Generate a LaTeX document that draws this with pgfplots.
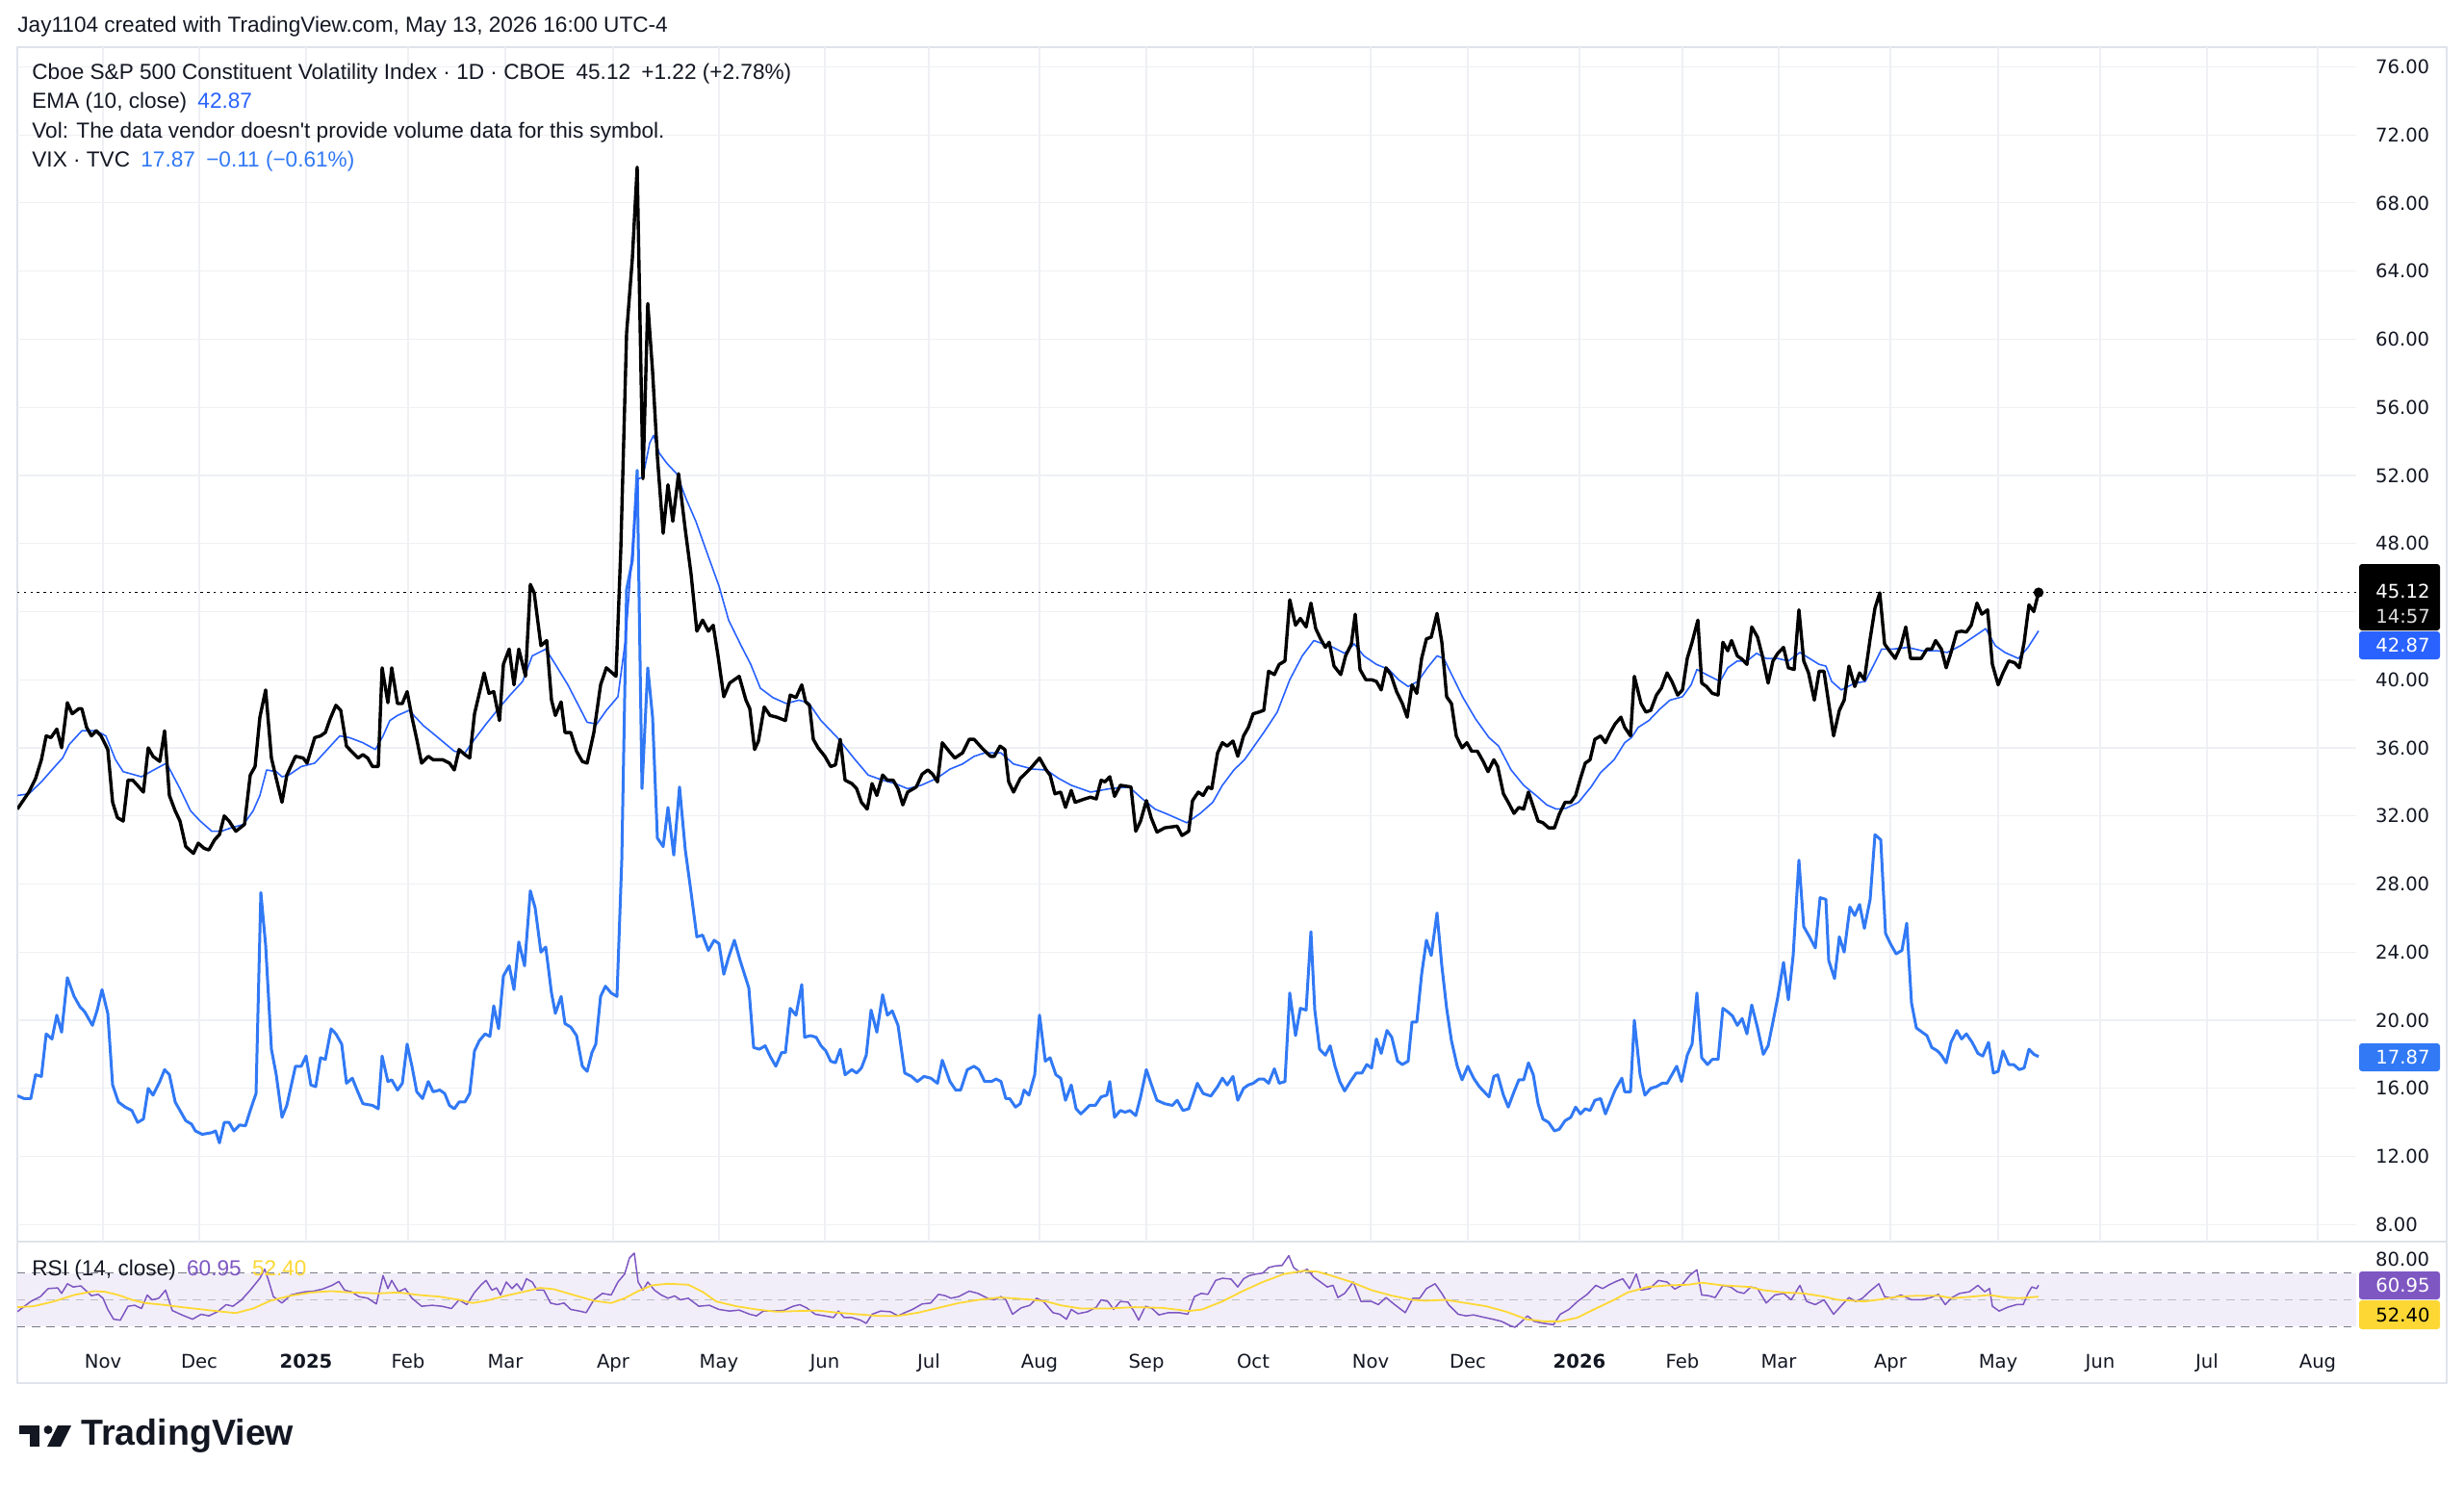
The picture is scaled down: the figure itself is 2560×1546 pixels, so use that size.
\documentclass[border=0pt]{standalone}
\usepackage{fontspec}
\setmainfont{Liberation Sans}
\newfontfamily\nolig{Liberation Sans}
\newfontfamily\axisfont{DejaVu Sans}
\usepackage{pgfplots}
\pgfplotsset{compat=1.18}
\usepgfplotslibrary{fillbetween}
\definecolor{gridc}{RGB}{238,240,244}
\definecolor{framec}{RGB}{224,227,235}
\definecolor{labc}{RGB}{19,23,34}
\definecolor{txt}{RGB}{19,23,34}
\definecolor{emac}{RGB}{41,98,255}
\definecolor{vixc}{RGB}{49,121,245}
\definecolor{rsic}{RGB}{126,87,194}
\definecolor{rsima}{RGB}{253,216,53}
\definecolor{bandc}{RGB}{242,238,249}
\definecolor{dashc}{RGB}{120,123,134}
\definecolor{dashl}{RGB}{187,189,194}
\newcommand\axf{\axisfont\fontsize{9.8}{11}\selectfont}
\begin{document}
\begin{tikzpicture}[x=0.5pt,y=-0.5pt]
\fill[white] (0,0) rectangle (2560,1546);
\draw[framec, line width=0.6pt] (18,49) rectangle (2542,1437);
\draw[framec, line width=0.6pt] (18,1290) -- (2542,1290);

% ---------------- main pane ----------------
\begin{axis}[
  at={(9pt,-645pt)}, anchor=south west, scale only axis,
  width=1215pt, height=620.5pt,
  xmin=18, xmax=2448, ymin=7.0, ymax=77.15,
  axis line style={draw=none}, tick style={draw=none},
  xtick={107,207,318,424,525,637,747,857,965,1080,1191,1302,1424,1525,1641,1748,1848,1964,2076,2182,2293,2408},
  xticklabels={},
  ytick={8,12,16,20,24,28,32,36,40,48,52,56,60,64,68,72,76},
  extra y ticks={44}, extra y tick labels={},
  yticklabel pos=right,
  grid=major, major grid style={gridc, line width=0.6pt},
  yticklabel style={font=\axf, text=labc, anchor=west, xshift=6.5pt,
    /pgf/number format/fixed, /pgf/number format/fixed zerofill, /pgf/number format/precision=2},
  /pgf/number format/assume math mode=true,
]
\addplot[black, dash pattern=on 1.2pt off 2.2pt, line width=0.6pt] coordinates {(18,45.12)(2448,45.12)};
% VIX
\addplot[vixc, line width=1.5pt, line join=round] coordinates {
(18,15.57)(25,15.4)(32,15.4)(37,16.8)(43,16.7)(48,19.2)(54,18.9)(59,20.3)(64,19.3)(70,22.5)(77,21.4)(83,20.8)(88,20.5)(96,19.7)(101,20.6)(106,21.8)(112,20.4)(117,16.2)(123,15.2)(130,14.9)(137,14.7)(143,14.0)(149,14.2)(154,16.0)(159,15.6)(166,16.4)(171,17.1)(176,16.8)(182,15.2)(193,14.1)(199,13.9)(203,13.5)(210,13.3)(220,13.4)(224,13.5)(228,12.8)(233,14.0)(238,14.0)(243,13.5)(249,13.85)(255,13.8)(260,14.7)(266,15.7)(271,27.5)(276,24.4)(282,18.3)(287,16.8)(293,14.3)(298,15.0)(307,17.3)(313,17.3)(318,17.9)(323,16.2)(328,16.1)(333,17.8)(338,17.7)(344,19.5)(349,19.2)(355,18.6)(360,16.3)(366,16.6)(371,15.9)(377,15.1)(387,15.0)(393,14.8)(397,17.9)(403,16.4)(407,16.5)(413,15.9)(418,16.3)(423,18.6)(428,17.3)(433,15.8)(439,15.4)(445,16.4)(450,15.8)(457,15.9)(462,15.7)(467,15.0)(472,14.8)(477,15.2)(483,15.2)(488,15.7)(493,18.2)(498,18.8)(504,19.2)(509,19.05)(513,20.85)(518,19.5)(523,22.6)(529,23.2)(534,21.8)(539,24.6)(545,23.2)(551,27.6)(556,26.6)(562,24.0)(567,24.3)(573,21.6)(577,20.4)(583,21.4)(587,19.8)(593,19.6)(599,19.1)(605,17.3)(610,17.0)(615,18.1)(619,18.6)(624,21.4)(629,22.0)(635,21.6)(641,21.4)(646,29.4)(651,45.3)(657,47.0)(662,52.3)(667,33.6)(673,40.7)(678,37.8)(683,30.7)(689,30.2)(694,32.5)(700,29.7)(706,33.7)(712,30.0)(718,27.5)(724,24.9)(730,25.0)(736,24.1)(742,24.7)(747,24.5)(752,22.7)(757,23.7)(763,24.7)(769,23.5)(778,21.9)(783,18.4)(789,18.3)(795,18.5)(800,17.9)(806,17.3)(812,18.1)(816,18.1)(821,20.7)(827,20.3)(833,22.1)(836,19.0)(842,19.1)(848,19.0)(853,18.5)(858,18.2)(863,17.6)(868,17.5)(873,18.3)(878,16.8)(885,17.1)(890,16.9)(895,17.2)(900,17.95)(905,20.6)(911,19.3)(917,21.5)(922,20.3)(927,20.55)(933,19.7)(940,16.9)(947,16.7)(953,16.4)(960,16.7)(967,16.6)(974,16.3)(979,17.65)(987,16.4)(993,15.9)(998,15.9)(1005,17.1)(1012,17.3)(1017,17.1)(1023,16.4)(1030,16.4)(1035,16.55)(1040,16.4)(1045,15.4)(1049,15.4)(1055,14.9)(1060,15.1)(1064,15.9)(1069,15.6)(1075,16.8)(1080,20.3)(1086,17.6)(1091,17.8)(1097,16.8)(1102,16.6)(1107,15.3)(1113,16.2)(1118,14.8)(1123,14.5)(1132,15.0)(1138,15.0)(1144,15.5)(1150,15.6)(1153,16.4)(1158,14.3)(1164,14.7)(1169,14.6)(1174,14.7)(1180,14.4)(1185,15.5)(1191,17.1)(1197,16.1)(1202,15.3)(1210,15.1)(1218,15.0)(1223,15.3)(1229,14.7)(1235,14.8)(1244,16.3)(1250,15.7)(1258,15.55)(1265,16.1)(1270,16.6)(1275,16.2)(1281,16.7)(1286,15.3)(1292,16.0)(1297,16.2)(1302,16.3)(1308,16.55)(1313,16.55)(1318,16.3)(1324,17.15)(1329,16.3)(1335,16.4)(1340,21.6)(1346,19.1)(1351,20.7)(1357,20.6)(1362,25.2)(1366,20.6)(1371,18.3)(1377,17.95)(1382,18.5)(1387,17.3)(1392,16.4)(1397,15.85)(1403,16.4)(1409,16.9)(1415,16.9)(1420,17.4)(1425,17.2)(1430,18.9)(1435,18.05)(1441,19.4)(1446,19.0)(1452,17.6)(1457,17.4)(1463,17.6)(1467,19.9)(1472,19.9)(1477,22.7)(1482,24.7)(1487,23.8)(1493,26.3)(1498,23.2)(1503,20.7)(1508,18.8)(1514,17.3)(1519,16.5)(1525,17.3)(1531,16.6)(1537,16.1)(1542,15.8)(1547,15.5)(1552,16.7)(1556,16.8)(1562,15.6)(1567,14.9)(1573,15.8)(1578,16.5)(1583,16.5)(1588,17.5)(1593,16.8)(1598,15.1)(1603,14.2)(1609,14.0)(1615,13.5)(1620,13.6)(1626,14.1)(1632,14.3)(1637,14.9)(1642,14.5)(1647,14.8)(1652,14.7)(1657,15.3)(1663,15.4)(1668,14.5)(1673,15.2)(1678,15.9)(1685,16.6)(1688,15.8)(1694,15.8)(1698,20.0)(1704,16.8)(1709,15.6)(1715,16.0)(1721,16.1)(1727,16.3)(1732,16.3)(1737,16.8)(1742,17.3)(1747,16.4)(1753,17.95)(1758,18.6)(1763,21.6)(1768,17.8)(1774,17.4)(1779,17.7)(1785,17.7)(1790,20.7)(1795,20.5)(1800,20.25)(1805,19.7)(1810,20.1)(1815,19.2)(1820,20.9)(1826,19.55)(1832,18.0)(1837,18.5)(1842,19.9)(1847,21.35)(1853,23.4)(1858,21.2)(1863,23.8)(1869,29.4)(1874,25.5)(1880,24.9)(1886,24.25)(1891,27.2)(1897,27.1)(1900,23.5)(1906,22.45)(1911,24.9)(1916,24.0)(1922,26.65)(1927,26.15)(1932,26.8)(1937,25.4)(1943,27.1)(1948,30.9)(1954,30.6)(1959,25.1)(1964,24.5)(1970,23.9)(1976,24.1)(1981,25.7)(1986,21.0)(1991,19.55)(1997,19.3)(2002,19.1)(2007,18.4)(2013,18.2)(2017,17.95)(2022,17.5)(2027,18.7)(2033,19.4)(2038,18.9)(2043,19.2)(2049,18.7)(2055,18.05)(2060,17.9)(2066,18.7)(2071,16.9)(2076,17.0)(2081,18.2)(2087,17.4)(2092,17.4)(2098,17.1)(2103,17.2)(2108,18.3)(2113,18.0)(2118,17.87)};
% EMA 10
\addplot[emac, line width=0.8pt, line join=round] coordinates {
(18,33.2)(30,33.3)(43,34.0)(57,34.9)(65,35.4)(72,36.2)(85,37.0)(100,37.0)(110,36.7)(120,35.3)(128,34.6)(147,34.3)(163,34.8)(173,35.1)(187,33.6)(198,32.3)(208,31.7)(220,31.1)(230,31.1)(240,31.3)(253,31.5)(263,32.3)(270,33.2)(277,34.7)(287,34.6)(293,34.3)(300,34.4)(313,34.9)(327,35.1)(340,35.9)(353,36.7)(363,36.6)(377,36.3)(390,35.9)(398,36.7)(405,37.6)(413,37.9)(425,38.2)(430,37.9)(440,37.3)(453,36.7)(472,35.8)(483,35.7)(493,36.5)(505,37.4)(518,38.3)(530,39.1)(543,39.9)(553,41.4)(567,41.8)(577,40.9)(590,39.7)(600,38.6)(610,37.5)(620,37.4)(630,38.2)(642,39.0)(650,42.4)(657,47.7)(663,51.8)(668,51.9)(675,53.9)(679,54.35)(685,53.3)(693,52.7)(703,52.1)(713,50.6)(723,49.3)(733,47.7)(747,45.5)(757,43.5)(770,42.0)(780,40.9)(790,39.5)(803,38.95)(817,38.6)(830,38.8)(840,38.65)(853,37.6)(870,36.6)(887,35.4)(902,34.4)(917,34.1)(930,33.9)(943,33.6)(957,33.8)(973,34.2)(987,34.75)(1000,35.05)(1012,35.5)(1023,35.7)(1040,35.7)(1053,35.05)(1073,34.75)(1087,34.7)(1100,34.2)(1113,33.8)(1133,33.4)(1153,33.6)(1173,33.7)(1187,33.0)(1200,32.4)(1213,32.1)(1233,31.6)(1247,32.15)(1260,32.8)(1270,33.8)(1282,34.7)(1293,35.3)(1303,36.1)(1313,36.9)(1327,38.1)(1340,40.0)(1353,41.4)(1365,42.3)(1375,42.1)(1385,41.9)(1397,41.55)(1407,42.1)(1417,41.4)(1430,40.9)(1443,40.6)(1453,40.0)(1463,39.6)(1473,39.9)(1483,40.7)(1493,41.4)(1500,41.25)(1510,40.1)(1520,38.95)(1533,37.7)(1547,36.6)(1557,36.1)(1570,34.7)(1583,33.8)(1597,33.15)(1607,32.65)(1617,32.4)(1627,32.45)(1640,32.8)(1653,33.7)(1663,34.55)(1677,35.3)(1688,36.3)(1695,36.6)(1702,37.2)(1713,37.6)(1725,38.3)(1735,38.8)(1748,39.0)(1757,39.7)(1763,40.6)(1773,40.3)(1787,39.9)(1795,40.7)(1805,41.1)(1815,41.1)(1825,41.55)(1835,41.25)(1847,41.25)(1858,41.1)(1870,41.6)(1880,41.25)(1890,40.9)(1897,40.8)(1903,39.9)(1913,39.4)(1927,39.8)(1938,39.9)(1947,40.9)(1955,41.8)(1967,41.8)(1982,41.9)(1997,41.7)(2013,41.7)(2023,41.6)(2037,42.0)(2050,42.5)(2063,43.0)(2073,42.0)(2083,41.6)(2097,41.25)(2107,41.9)(2118,42.87)};
% Cboe S&P 500 Constituent Volatility Index
\addplot[black, line width=1.7pt, line join=round] coordinates {
(18,32.4)(30,33.4)(37,34.2)(43,35.3)(48,36.7)(53,36.6)(59,37.1)(64,36.0)(70,38.65)(75,38.0)(82,38.3)(85,38.3)(90,37.2)(95,36.7)(100,37.0)(105,36.7)(112,35.9)(117,32.8)(122,31.9)(128,31.7)(133,34.1)(138,34.1)(149,33.4)(154,36.0)(159,35.5)(166,35.2)(171,37.0)(176,33.2)(182,32.3)(187,31.7)(193,30.2)(201,29.8)(206,30.4)(212,30.1)(217,30.0)(223,30.6)(228,30.9)(233,32.0)(238,31.7)(245,31.1)(254,31.5)(260,34.4)(265,34.9)(270,37.8)(276,39.4)(282,35.4)(287,34.2)(293,32.8)(298,34.4)(307,35.5)(315,35.4)(319,35.1)(327,36.6)(333,36.7)(338,36.9)(343,37.7)(349,38.5)(354,38.2)(360,36.1)(365,35.8)(372,35.4)(377,35.6)(382,35.4)(387,34.9)(393,34.9)(397,40.7)(403,38.65)(407,40.7)(413,38.6)(418,38.6)(423,39.3)(428,37.8)(433,36.5)(438,35.1)(445,35.5)(450,35.3)(460,35.3)(467,35.1)(472,34.7)(477,35.9)(483,35.6)(488,35.4)(493,38.0)(498,39.2)(503,40.4)(508,39.2)(513,39.3)(519,37.6)(523,40.9)(529,41.8)(534,39.7)(539,41.8)(546,40.2)(551,45.6)(555,45.1)(562,42.0)(568,42.3)(573,38.8)(577,37.9)(583,38.7)(587,36.9)(593,36.9)(599,35.8)(605,35.2)(610,35.1)(617,36.9)(624,39.7)(630,40.7)(640,40.2)(645,47.7)(651,60.35)(657,64.75)(662,70.1)(668,51.8)(673,62.1)(678,58.1)(683,53.1)(689,48.6)(694,51.45)(699,49.3)(705,52.1)(712,48.8)(718,46.2)(724,42.85)(730,43.5)(736,42.85)(741,43.2)(746,41.4)(752,39.0)(758,39.8)(768,40.2)(775,38.8)(779,38.3)(784,35.9)(788,36.4)(794,38.4)(800,37.9)(807,37.8)(816,37.6)(821,39.1)(827,38.95)(833,39.7)(837,38.7)(841,38.5)(845,36.5)(850,36.0)(857,35.5)(863,34.9)(868,35.0)(873,36.5)(878,34.1)(885,33.9)(890,33.6)(895,32.8)(901,32.4)(906,33.9)(911,33.2)(917,34.4)(922,34.1)(928,34.1)(933,33.6)(938,32.65)(943,33.4)(952,33.7)(958,34.45)(964,34.7)(969,34.45)(974,34.0)(979,36.3)(986,35.8)(992,35.4)(1000,35.7)(1007,36.5)(1012,36.5)(1020,36.0)(1029,35.5)(1033,35.5)(1039,36.1)(1044,35.9)(1048,34.0)(1053,33.4)(1060,34.2)(1070,34.75)(1080,35.4)(1087,34.7)(1091,34.4)(1096,33.3)(1102,33.4)(1107,32.5)(1113,33.5)(1117,32.8)(1127,33.0)(1133,33.1)(1139,33.0)(1144,34.1)(1148,34.0)(1153,34.3)(1158,33.15)(1164,33.8)(1175,33.7)(1180,31.1)(1185,31.7)(1191,32.9)(1196,31.9)(1202,31.05)(1210,31.3)(1223,31.4)(1228,30.85)(1235,31.1)(1239,32.9)(1245,33.4)(1250,33.2)(1255,33.7)(1259,33.6)(1265,35.7)(1270,36.3)(1275,36.1)(1281,36.4)(1286,35.5)(1292,36.7)(1297,37.2)(1302,38.0)(1308,38.1)(1313,38.2)(1318,40.5)(1324,40.3)(1329,40.9)(1335,41.1)(1340,44.7)(1346,43.2)(1351,43.6)(1357,43.1)(1362,44.5)(1367,43.0)(1372,42.4)(1377,41.9)(1381,42.2)(1386,40.8)(1393,40.3)(1398,41.4)(1404,42.1)(1408,43.85)(1413,40.6)(1419,40.0)(1425,40.0)(1430,39.9)(1435,39.4)(1440,40.7)(1445,40.3)(1451,39.3)(1457,38.6)(1462,37.8)(1467,39.7)(1472,39.2)(1477,41.25)(1482,42.4)(1487,42.5)(1493,43.9)(1498,42.2)(1503,39.0)(1508,38.6)(1513,36.7)(1519,36.0)(1524,36.3)(1529,35.8)(1535,35.8)(1541,35.2)(1546,34.6)(1552,35.3)(1556,34.9)(1562,33.3)(1567,32.8)(1573,32.15)(1578,32.5)(1583,32.4)(1588,33.4)(1593,32.55)(1598,31.7)(1603,31.6)(1609,31.3)(1615,31.3)(1620,32.1)(1626,32.8)(1632,32.8)(1637,33.2)(1642,34.2)(1647,35.1)(1652,35.3)(1657,36.5)(1663,36.7)(1668,36.3)(1673,36.9)(1678,37.4)(1684,37.8)(1688,37.2)(1694,36.7)(1698,40.2)(1705,38.6)(1710,38.1)(1715,38.2)(1721,39.1)(1726,39.5)(1732,40.4)(1737,39.9)(1743,39.1)(1748,39.4)(1753,41.25)(1758,42.2)(1764,43.5)(1768,39.8)(1773,39.6)(1779,39.2)(1785,39.1)(1790,42.2)(1795,41.7)(1799,42.3)(1805,41.4)(1810,41.2)(1815,40.9)(1820,43.1)(1826,42.5)(1831,41.4)(1837,39.8)(1842,41.1)(1847,41.55)(1853,41.9)(1858,40.7)(1864,40.6)(1869,44.1)(1874,41.1)(1879,40.4)(1885,38.8)(1890,40.5)(1895,40.5)(1900,38.6)(1905,36.7)(1911,38.2)(1916,38.8)(1921,40.8)(1927,39.6)(1932,40.4)(1937,40.0)(1943,42.4)(1948,44.2)(1953,45.1)(1958,42.1)(1963,41.7)(1969,41.25)(1975,42.0)(1980,43.1)(1985,41.25)(1990,41.25)(1996,41.25)(2002,41.8)(2007,41.8)(2011,42.3)(2017,41.8)(2022,40.7)(2027,41.6)(2033,42.8)(2038,42.85)(2043,42.8)(2048,43.2)(2054,44.5)(2059,43.85)(2065,44.1)(2070,40.9)(2076,39.7)(2081,40.4)(2087,41.1)(2093,41.0)(2098,40.7)(2103,42.2)(2108,44.4)(2113,44.0)(2118,45.12)};
\addplot[only marks, mark=*, mark size=2.4pt, black] coordinates {(2118,45.12)};
\end{axis}

% ---------------- RSI pane ----------------
\begin{axis}[
  at={(9pt,-694pt)}, anchor=south west, scale only axis,
  width=1215pt, height=49pt,
  xmin=18, xmax=2448, ymin=23, ymax=93.5,
  axis line style={draw=none}, tick style={draw=none},
  xtick={107,207,318,424,525,637,747,857,965,1080,1191,1302,1424,1525,1641,1748,1848,1964,2076,2182,2293,2408},
  xticklabels={Nov,Dec,\textbf{2025},Feb,Mar,Apr,May,Jun,Jul,Aug,Sep,Oct,Nov,Dec,\textbf{2026},Feb,Mar,Apr,May,Jun,Jul,Aug},
  xticklabel style={font=\axf, text=labc, anchor=base, yshift=-16.5pt},
  ytick={40,80}, yticklabels={,80.00},
  yticklabel pos=right,
  yticklabel style={font=\axf, text=labc, anchor=west, xshift=6.5pt},
  grid=major, major grid style={gridc, line width=0.6pt},
]
\addplot[draw=none, fill=bandc] coordinates {(18,30)(2448,30)(2448,70)(18,70)} -- cycle;
\addplot[dashc, dash pattern=on 4.2pt off 3.4pt, line width=0.6pt] coordinates {(18,30)(2448,30)};
\addplot[dashl, dash pattern=on 4.2pt off 3.4pt, line width=0.6pt] coordinates {(18,50)(2448,50)};
\addplot[name path=l70, dashc, dash pattern=on 4.2pt off 3.4pt, line width=0.6pt] coordinates {(18,70)(2448,70)};
\addplot[name path=rsi, rsic, line width=0.75pt, line join=round] coordinates {
(18,41.1)(32,48.8)(42,52.4)(50,58.4)(60,58.9)(64,54.8)(70,62.0)(76,59.6)(84,60.4)(95,53.1)(102,54.1)(107,51.2)(112,42.8)(118,35.5)(125,34.8)(133,45.2)(140,45.9)(147,43.5)(153,53.6)(158,50.0)(165,51.2)(172,57.2)(179,42.0)(189,38.7)(200,35.5)(209,39.2)(217,38.0)(226,41.1)(235,46.4)(242,45.2)(251,50.0)(260,57.2)(270,66.1)(275,72.9)(279,64.5)(284,52.4)(293,47.6)(302,53.6)(309,54.8)(317,56.0)(326,56.5)(335,58.0)(345,60.8)(352,63.7)(358,57.2)(365,56.0)(373,52.4)(382,51.2)(391,46.9)(398,68.1)(403,58.4)(407,64.5)(414,56.0)(421,58.4)(428,51.2)(438,45.2)(449,45.9)(459,45.2)(469,43.5)(477,50.0)(485,46.4)(493,55.5)(500,61.3)(505,64.5)(511,57.2)(516,58.9)(520,53.6)(526,63.3)(532,58.4)(537,62.0)(542,57.2)(547,65.7)(553,63.3)(558,57.2)(565,57.2)(572,47.6)(579,46.4)(586,47.6)(593,42.8)(602,41.6)(609,40.4)(617,50.0)(626,54.8)(635,53.6)(642,63.3)(649,69.3)(654,81.3)(659,84.9)(663,63.3)(668,57.2)(673,63.3)(680,57.2)(687,53.6)(694,51.2)(701,52.9)(707,50.0)(715,51.2)(726,45.2)(737,45.9)(747,42.8)(758,41.6)(768,42.3)(779,39.2)(786,38.0)(793,41.6)(803,41.6)(814,42.0)(824,45.2)(831,46.4)(838,44.0)(847,39.2)(857,38.0)(866,36.7)(871,41.6)(877,36.7)(885,36.7)(894,34.8)(900,32.4)(906,39.2)(915,41.6)(925,41.1)(933,38.0)(940,40.4)(948,42.8)(958,46.9)(967,47.6)(975,54.1)(982,53.1)(988,51.2)(996,52.4)(1007,56.5)(1016,54.8)(1026,51.2)(1033,50.0)(1040,52.4)(1045,50.0)(1052,39.2)(1061,44.0)(1070,45.9)(1077,51.2)(1084,48.8)(1094,40.4)(1101,39.2)(1108,35.5)(1113,42.8)(1120,39.6)(1130,41.1)(1139,44.5)(1144,50.0)(1151,48.8)(1157,42.8)(1164,48.8)(1172,48.3)(1178,41.6)(1183,34.8)(1190,45.2)(1197,43.5)(1204,38.7)(1214,40.4)(1225,40.4)(1234,39.2)(1241,52.4)(1248,54.8)(1255,54.1)(1263,64.5)(1270,66.1)(1279,65.5)(1286,59.6)(1292,65.7)(1298,68.1)(1305,69.3)(1312,70.0)(1318,74.1)(1325,75.3)(1332,75.7)(1339,83.0)(1344,74.1)(1351,70.5)(1358,72.9)(1365,66.9)(1372,63.3)(1379,59.6)(1385,60.8)(1390,51.7)(1397,54.8)(1406,63.3)(1414,48.8)(1425,48.8)(1432,46.4)(1440,51.7)(1449,46.4)(1460,40.4)(1468,51.2)(1475,51.2)(1482,58.4)(1491,62.0)(1498,54.8)(1505,46.4)(1515,39.2)(1523,38.0)(1531,38.7)(1540,37.2)(1551,35.5)(1560,33.9)(1569,30.7)(1574,29.5)(1580,33.1)(1587,38.0)(1594,33.9)(1604,32.4)(1614,31.4)(1621,39.2)(1630,42.8)(1639,48.8)(1649,54.1)(1658,60.8)(1665,58.4)(1672,61.3)(1679,63.7)(1686,65.7)(1693,58.4)(1700,69.3)(1705,57.2)(1714,58.4)(1723,64.5)(1732,63.3)(1740,58.0)(1747,60.8)(1756,68.6)(1763,72.4)(1768,53.6)(1775,53.1)(1782,51.7)(1790,60.8)(1798,59.6)(1805,56.0)(1812,54.8)(1819,59.6)(1826,58.4)(1835,47.6)(1844,53.6)(1853,54.8)(1861,50.0)(1870,60.8)(1877,48.8)(1886,46.4)(1895,50.0)(1905,39.2)(1914,46.4)(1921,51.7)(1928,48.8)(1935,51.2)(1942,56.0)(1952,62.0)(1958,52.4)(1966,51.2)(1975,53.6)(1986,50.0)(1996,50.0)(2006,51.7)(2014,54.1)(2021,46.4)(2028,51.7)(2036,54.8)(2046,56.0)(2055,60.8)(2062,56.0)(2067,58.4)(2070,45.2)(2077,41.6)(2086,44.5)(2095,46.4)(2102,46.4)(2107,54.8)(2111,59.6)(2116,58.4)(2118,60.95)};
\addplot[fill={rgb,255:red,76;green,175;blue,80}, fill opacity=0.25, draw=none]
  fill between[of=rsi and l70, soft clip={(axis cs:18,70) rectangle (axis cs:2448,95)}];
\addplot[rsima, line width=0.9pt, line join=round] coordinates {
(18,44.5)(35,45.2)(56,48.8)(77,53.6)(98,56.5)(109,56.0)(123,53.6)(137,50.0)(151,47.6)(168,46.4)(189,44.5)(210,42.8)(231,41.1)(245,40.1)(263,43.5)(281,49.3)(302,53.1)(323,55.5)(344,56.5)(365,55.5)(393,54.8)(414,55.5)(435,53.6)(456,52.4)(477,50.0)(491,47.6)(505,49.3)(526,53.1)(547,56.5)(561,58.9)(575,58.0)(596,53.6)(617,49.3)(635,47.6)(649,51.2)(663,56.5)(677,60.8)(694,62.0)(715,61.3)(730,56.0)(744,48.8)(765,45.2)(786,42.8)(807,41.1)(828,41.6)(849,42.0)(870,40.4)(891,39.2)(912,38.0)(933,38.0)(954,40.4)(975,44.0)(996,47.6)(1017,50.0)(1038,51.7)(1052,51.2)(1073,50.0)(1087,48.8)(1102,45.9)(1123,43.5)(1151,43.5)(1179,44.5)(1207,44.0)(1235,41.6)(1249,42.8)(1270,48.8)(1291,56.5)(1312,63.3)(1334,69.3)(1355,71.7)(1369,71.0)(1383,68.1)(1404,63.3)(1425,57.2)(1446,53.1)(1467,50.0)(1481,49.3)(1502,50.0)(1523,47.6)(1544,45.2)(1565,41.1)(1586,35.5)(1604,33.9)(1621,33.9)(1639,36.7)(1656,42.8)(1677,50.0)(1691,55.5)(1712,59.6)(1733,60.8)(1754,61.3)(1768,62.8)(1790,60.8)(1818,59.6)(1832,57.2)(1853,55.5)(1874,54.8)(1895,52.4)(1909,50.0)(1937,48.8)(1951,50.0)(1972,52.4)(1993,53.1)(2014,53.1)(2028,51.2)(2049,52.4)(2067,53.6)(2084,51.7)(2098,51.2)(2118,52.40)};
\end{axis}

% ---------------- texts ----------------
\begin{scope}[every node/.style={inner sep=0, anchor=west, text=txt, font=\fontsize{11.3}{13}\selectfont}]
\node at (18,28) {Jay1104 created with TradingView.com, May 13, 2026 16:00 UTC-4};
\node at (33,77) {Cboe S\&P 500 Constituent Volatility Index · 1D · CBOE\enspace 45.12\enspace +1.22 (+2.78\%)};
\node at (33,107) {EMA (10, close)\enspace\textcolor{emac}{42.87}};
\node at (33,138) {Vol: The data vendor doesn{\nolig'}t provide volume data for this symbol.};
\node at (33,168) {VIX · TVC\enspace\textcolor{vixc}{17.87\enspace −0.11 (−0.61\%)}};
\node at (33,1320) {RSI (14, close)\enspace\textcolor{rsic}{60.95}\enspace\textcolor{rsima}{52.40}};
\end{scope}

% price scale labels
\fill[black, rounded corners=1.5pt] (2451,586) rectangle (2535,655);
\fill[emac, rounded corners=1.5pt] (2451,656) rectangle (2535,685);
\fill[vixc, rounded corners=1.5pt] (2451,1084) rectangle (2535,1113);
\fill[rsic, rounded corners=1.5pt] (2451,1321) rectangle (2535,1350);
\fill[rsima, rounded corners=1.5pt] (2451,1351) rectangle (2535,1381);
\begin{scope}[every node/.style={inner sep=0, anchor=west, font=\axf}]
\node[text=white] at (2468,614) {45.12};
\node[text=white!75!gray] at (2468,640) {14:57};
\node[text=white] at (2468,670.5) {42.87};
\node[text=white] at (2468,1098.5) {17.87};
\node[text=white] at (2468,1335.5) {60.95};
\node[text=black] at (2468,1366) {52.40};
\end{scope}

% TradingView logo
\fill[txt] (20,1481) rectangle (41,1490);
\fill[txt] (31,1481) rectangle (41,1503);
\fill[txt] (50,1485.5) circle (4.5);
\fill[txt] (60,1481) -- (74,1481) -- (63,1503) -- (49,1503) -- cycle;
\node[inner sep=0, anchor=west, text=txt, font=\bfseries\fontsize{18.8}{21}\selectfont] at (84,1492) {TradingView};
\end{tikzpicture}
\end{document}
